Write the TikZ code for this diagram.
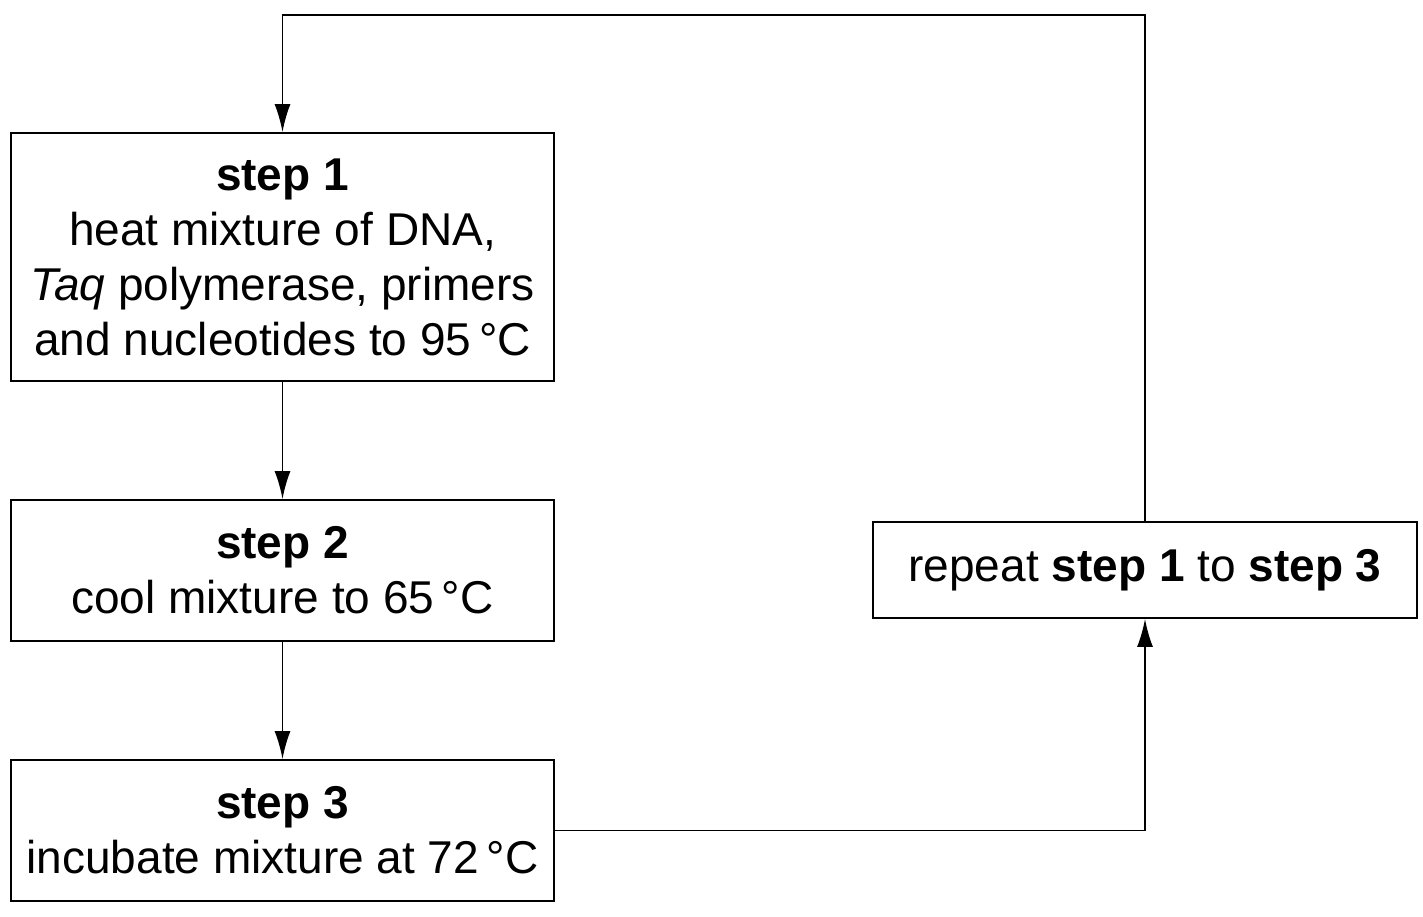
\documentclass[tikz,border=0pt]{standalone}
\usepackage{fontspec}
\setmainfont{Liberation Sans}
\usetikzlibrary{arrows.meta}
\begin{document}
\begin{tikzpicture}[x=1pt,y=-1pt,
  box/.style={draw,line width=1.8pt,align=center,inner sep=0pt,
    font=\fontsize{46}{55}\selectfont},
  conn/.style={line width=1.8pt},
  arr/.style={conn,-{Latex[length=28pt,width=16pt]}}]
\useasboundingbox (0,0) rectangle (1423,916);
\node[box,minimum width=543pt,minimum height=248pt] (s1) at (282.5,257)
  {\textbf{step 1}\\heat mixture of DNA,\\\textit{Taq} polymerase, primers\\and nucleotides to 95\,°C};
\node[box,minimum width=543pt,minimum height=141pt] (s2) at (282.5,570.5)
  {\textbf{step 2}\\cool mixture to 65\,°C};
\node[box,minimum width=543pt,minimum height=141pt] (s3) at (282.5,830.5)
  {\textbf{step 3}\\incubate mixture at 72\,°C};
\node[box,minimum width=544pt,minimum height=96pt] (r) at (1145,570)
  {repeat \textbf{step 1} to \textbf{step 3}};
\coordinate (c1) at (1145,15);
\draw[arr] (s1.south) -- (s2.north);
\draw[arr] (s2.south) -- (s3.north);
\draw[arr] (s3.east) -| (r.south);
\draw[arr] (r.north) -- (c1) -- (c1 -| s1.north) -- (s1.north);
\end{tikzpicture}
\end{document}
